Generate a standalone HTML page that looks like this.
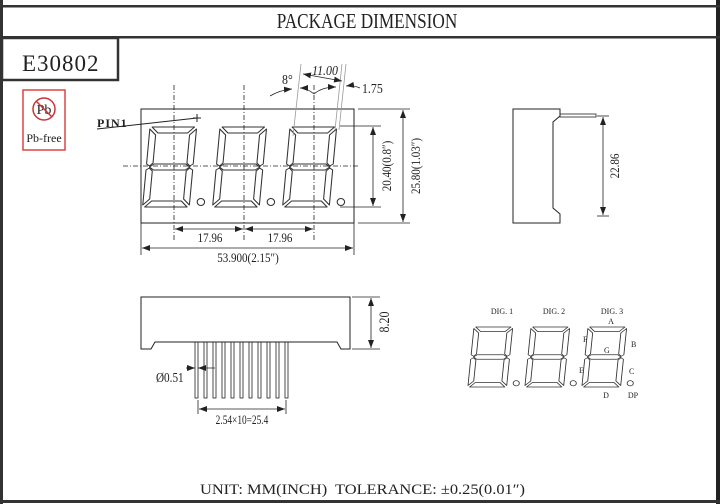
<!DOCTYPE html>
<html><head><meta charset="utf-8"><style>
html,body{margin:0;padding:0;background:#fff;}
svg{display:block;}
text{font-family:"Liberation Serif",serif;fill:#222;}
</style></head><body>
<svg width="720" height="504" viewBox="0 0 720 504" xmlns="http://www.w3.org/2000/svg">
<defs>
<g id="dg" fill="none" stroke="#333" stroke-width="1" stroke-linejoin="round">
 <g transform="skewX(-5)">
 <polygon points="2,0 42,0 36,6 8,6"/>
 <polygon points="0,2 6,8 6,36 3,39 0,37"/>
 <polygon points="44,2 44,37 41,39 38,36 38,8"/>
 <polygon points="3,40 7,37 37,37 41,40 37,43 7,43"/>
 <polygon points="0,43 3,41 6,44 6,72 0,78"/>
 <polygon points="44,43 44,78 38,72 38,44 41,41"/>
 <polygon points="2,80 8,74 36,74 42,80"/>
 </g>
 <circle cx="48" cy="75" r="3.5"/>
</g>
<marker id="ar" markerWidth="8" markerHeight="6" refX="8" refY="3" orient="auto" markerUnits="userSpaceOnUse"><path d="M0,0 L8,3 L0,6 Z" fill="#222"/></marker>
<marker id="al" markerWidth="8" markerHeight="6" refX="0" refY="3" orient="auto" markerUnits="userSpaceOnUse"><path d="M8,0 L0,3 L8,6 Z" fill="#222"/></marker>
</defs>

<rect x="0" y="0" width="3" height="504" fill="#333"/>
<rect x="716" y="0" width="4" height="504" fill="#222"/>
<rect x="0" y="5" width="720" height="2.5" fill="#333"/>
<rect x="0" y="36" width="720" height="2.5" fill="#333"/>
<rect x="0" y="500" width="720" height="3" fill="#333"/>
<text x="367" y="28" font-size="21" text-anchor="middle" transform="translate(367 0) scale(0.82 1) translate(-367 0)">PACKAGE DIMENSION</text>
<rect x="2" y="38" width="116" height="42" fill="none" stroke="#333" stroke-width="2.5"/>
<text x="22" y="71" font-size="23" letter-spacing="1">E30802</text>

<rect x="23" y="90" width="42" height="60" fill="none" stroke="#d44" stroke-width="1.5"/>
<circle cx="44" cy="109" r="11" fill="none" stroke="#c33" stroke-width="1.5"/>
<text x="44" y="114" font-size="14" text-anchor="middle">Pb</text>
<line x1="36" y1="101" x2="52" y2="117" stroke="#c33" stroke-width="1.5"/>
<text x="44" y="142" font-size="12" text-anchor="middle">Pb-free</text>

<rect x="141" y="109" width="213" height="114" fill="none" stroke="#222"/>
<use href="#dg" transform="translate(150 127) scale(1.06 1)"/>
<use href="#dg" transform="translate(220 127) scale(1.06 1)"/>
<use href="#dg" transform="translate(290 127) scale(1.06 1)"/>
<g stroke="#222" stroke-dasharray="5,2,1,2" stroke-width="0.8">
 <line x1="174" y1="85" x2="174" y2="240"/>
 <line x1="244" y1="85" x2="244" y2="240"/>
 <line x1="314" y1="85" x2="314" y2="240"/>
 <line x1="123" y1="166" x2="360" y2="166"/>
</g>
<text x="97" y="127" font-size="12" font-weight="bold" letter-spacing="1">PIN1</text>
<line x1="97" y1="129" x2="197" y2="118" stroke="#222"/>
<line x1="193" y1="118" x2="201" y2="118" stroke="#222"/><line x1="197" y1="114" x2="197" y2="122" stroke="#222"/>
<g stroke="#222" stroke-width="0.8">
 <line x1="175" y1="229" x2="243" y2="229" marker-start="url(#al)" marker-end="url(#ar)"/>
 <line x1="245" y1="229" x2="313" y2="229" marker-start="url(#al)" marker-end="url(#ar)"/>
 <line x1="141" y1="223" x2="141" y2="255"/><line x1="354" y1="223" x2="354" y2="255"/>
 <line x1="142" y1="248" x2="353" y2="248" marker-start="url(#al)" marker-end="url(#ar)"/>
 <line x1="340" y1="126" x2="381" y2="126"/><line x1="340" y1="207" x2="381" y2="207"/>
 <line x1="373" y1="127" x2="373" y2="206" marker-start="url(#al)" marker-end="url(#ar)"/>
 <line x1="358" y1="109" x2="410" y2="109"/><line x1="358" y1="223" x2="410" y2="223"/>
 <line x1="403" y1="110" x2="403" y2="222" marker-start="url(#al)" marker-end="url(#ar)"/>
</g>
<text x="210" y="242" font-size="13" text-anchor="middle" transform="translate(210 0) scale(0.85 1) translate(-210 0)">17.96</text>
<text x="280" y="242" font-size="13" text-anchor="middle" transform="translate(280 0) scale(0.85 1) translate(-280 0)">17.96</text>
<text x="248" y="262" font-size="13" text-anchor="middle" transform="translate(248 0) scale(0.85 1) translate(-248 0)">53.900(2.15″)</text>
<text font-size="13" text-anchor="middle" transform="translate(391 166) rotate(-90) scale(0.85 1)">20.40(0.8″)</text>
<text font-size="13" text-anchor="middle" transform="translate(420 166) rotate(-90) scale(0.85 1)">25.80(1.03″)</text>
<g stroke="#999" stroke-width="0.8">
 <line x1="293" y1="136" x2="301" y2="64"/>
 <line x1="335" y1="130" x2="342" y2="64"/>
 <line x1="339" y1="130" x2="346" y2="64"/>
</g>
<g stroke="#222" stroke-width="0.8" fill="none">
 <line x1="303" y1="74" x2="342" y2="81" marker-start="url(#al)" marker-end="url(#ar)"/>
 <path d="M270,96 Q280,90 292,89" marker-end="url(#ar)"/>
 <path d="M314,94 Q307,88 300,88" marker-end="url(#ar)"/>
 <path d="M314,94 Q322,87 336,87" marker-end="url(#ar)"/>
 <path d="M360,88 Q353,85 346,86" marker-end="url(#ar)"/>
</g>
<text x="282" y="84" font-size="14" transform="translate(282 0) scale(0.85 1) translate(-282 0)">8°</text>
<text x="325" y="75" font-size="14" font-style="italic" text-anchor="middle" transform="translate(325 0) scale(0.85 1) translate(-325 0)">11.00</text>
<text x="362" y="93" font-size="14" transform="translate(362 0) scale(0.85 1) translate(-362 0)">1.75</text>

<path d="M513,109 H560 V116 L553,122 V208 L560,214 V223 H513 Z" fill="none" stroke="#222"/>
<rect x="560" y="114" width="36" height="3" fill="none" stroke="#222" stroke-width="0.8"/>
<g stroke="#222" stroke-width="0.8">
 <line x1="597" y1="116" x2="609" y2="116"/><line x1="597" y1="216" x2="609" y2="216"/>
 <line x1="603" y1="117" x2="603" y2="215" marker-start="url(#al)" marker-end="url(#ar)"/>
</g>
<text font-size="13" text-anchor="middle" transform="translate(619 166) rotate(-90) scale(0.85 1)">22.86</text>

<path d="M141,297 H350 V349 H341 L337,342 H155 L151,349 H141 Z" fill="none" stroke="#222"/>
<g fill="none" stroke="#222" stroke-width="0.8">
 <rect x="195" y="342" width="3" height="56"/><rect x="204" y="342" width="3" height="56"/>
 <rect x="213" y="342" width="3" height="56"/><rect x="222" y="342" width="3" height="56"/>
 <rect x="231" y="342" width="3" height="56"/><rect x="240" y="342" width="3" height="56"/>
 <rect x="249" y="342" width="3" height="56"/><rect x="258" y="342" width="3" height="56"/>
 <rect x="267" y="342" width="3" height="56"/><rect x="276" y="342" width="3" height="56"/>
 <rect x="285" y="342" width="3" height="56"/>
 <line x1="186" y1="368" x2="195" y2="368" marker-end="url(#ar)"/>
 <line x1="215" y1="368" x2="198" y2="368" marker-end="url(#ar)"/>
 <line x1="198" y1="400" x2="198" y2="414"/><line x1="286" y1="400" x2="286" y2="414"/>
 <line x1="199" y1="409" x2="285" y2="409" marker-start="url(#al)" marker-end="url(#ar)"/>
 <line x1="352" y1="297" x2="380" y2="297"/><line x1="352" y1="349" x2="380" y2="349"/>
 <line x1="371" y1="298" x2="371" y2="348" marker-start="url(#al)" marker-end="url(#ar)"/>
</g>
<text x="156" y="382" font-size="14" transform="translate(156 0) scale(0.8 1) translate(-156 0)">Ø0.51</text>
<text x="242" y="424" font-size="13" text-anchor="middle" transform="translate(242 0) scale(0.72 1) translate(-242 0)">2.54×10=25.4</text>
<text font-size="15" text-anchor="middle" transform="translate(389 322) rotate(-90) scale(0.8 1)">8.20</text>

<use href="#dg" transform="translate(474 327) scale(0.88 0.75)"/>
<use href="#dg" transform="translate(531 327) scale(0.88 0.75)"/>
<use href="#dg" transform="translate(588 327) scale(0.88 0.75)"/>
<g font-size="8">
 <text x="502" y="314" text-anchor="middle">DIG. 1</text>
 <text x="554" y="314" text-anchor="middle">DIG. 2</text>
 <text x="612" y="314" text-anchor="middle">DIG. 3</text>
 <text x="611" y="324" text-anchor="middle">A</text>
 <text x="583" y="342">F</text>
 <text x="631" y="347">B</text>
 <text x="604" y="353">G</text>
 <text x="579" y="373">E</text>
 <text x="629" y="374">C</text>
 <text x="606" y="398" text-anchor="middle">D</text>
 <text x="633" y="398" text-anchor="middle">DP</text>
</g>

<text x="200" y="494" font-size="15" xml:space="preserve" textLength="325" lengthAdjust="spacingAndGlyphs">UNIT: MM(INCH)  TOLERANCE: ±0.25(0.01″)</text>
</svg>
</body></html>
